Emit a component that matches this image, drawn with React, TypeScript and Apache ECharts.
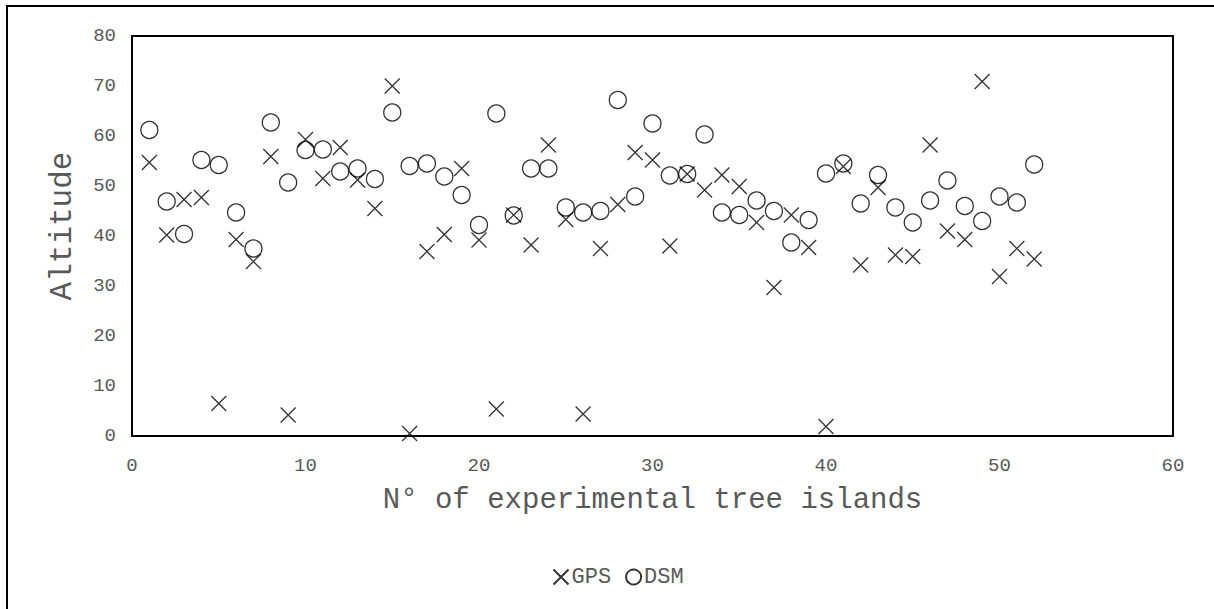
import React, { useEffect, useRef } from "react";
import * as echarts from "echarts";

const islands: number[] = Array.from({ length: 52 }, (_, i) => i + 1);
const gpsValues: number[] = [
  54.7, 40.2, 47.3, 47.7, 6.5, 39.3, 34.9, 55.9, 4.2, 59.3,
  51.5, 57.7, 51.2, 45.5, 70.0, 0.5, 36.9, 40.3, 53.5, 39.2,
  5.4, 44.2, 38.2, 58.2, 43.3, 4.4, 37.5, 46.3, 56.7, 55.2,
  38.0, 52.4, 49.2, 52.2, 49.9, 42.7, 29.7, 44.2, 37.7, 1.9,
  53.9, 34.2, 49.7, 36.2, 35.9, 58.2, 41.0, 39.3, 70.9, 31.9,
  37.5, 35.4,
];
const dsmValues: number[] = [
  61.2, 46.9, 40.4, 55.2, 54.2, 44.7, 37.5, 62.7, 50.7, 57.2,
  57.3, 52.9, 53.5, 51.4, 64.7, 54.0, 54.5, 51.9, 48.2, 42.2,
  64.5, 44.1, 53.5, 53.5, 45.7, 44.7, 45.0, 67.2, 47.9, 62.5,
  52.1, 52.4, 60.3, 44.7, 44.2, 47.1, 45.0, 38.7, 43.2, 52.5,
  54.5, 46.5, 52.2, 45.7, 42.7, 47.1, 51.1, 46.0, 43.0, 47.9,
  46.7, 54.3,
];
const xTitle = "N° of experimental tree islands";
const yTitle = "Altitude";
const seriesNames = ["GPS", "DSM"];

const FONT = "'Liberation Mono', 'Courier New', monospace";
const TEXT = "#595959";

export default function App() {
  const ref = useRef<HTMLDivElement>(null);
  useEffect(() => {
    if (!ref.current) return;
    const chart = echarts.init(ref.current, null, { renderer: "svg" });
    const cross = "path://M0,0L10,10M10,0L0,10";
    chart.setOption({
      animation: false,
      backgroundColor: "#fff",
      graphic: [
        {
          type: "rect",
          shape: { x: 7, y: 6, width: 1400, height: 800 },
          style: { fill: "none", stroke: "#000", lineWidth: 2 },
          silent: true,
          z: 100,
        },
      ],
      grid: {
        left: 132,
        right: 41,
        top: 36,
        bottom: 173,
        show: true,
        borderColor: "#000",
        borderWidth: 2,
      },
      legend: {
        left: 546,
        top: 561,
        itemGap: 14,
        itemWidth: 15,
        itemHeight: 15,
        data: seriesNames,
        textStyle: { fontFamily: FONT, fontSize: 22, color: TEXT, padding: [0, 0, 0, -2] },
      },
      xAxis: {
        type: "value",
        min: 0,
        max: 60,
        interval: 10,
        name: xTitle,
        nameLocation: "middle",
        nameGap: 50,
        nameTextStyle: { fontFamily: FONT, fontSize: 29, color: TEXT },
        axisLine: { show: false },
        axisTick: { show: false },
        splitLine: { show: false },
        axisLabel: { fontFamily: FONT, fontSize: 19, color: TEXT, margin: 20 },
      },
      yAxis: {
        type: "value",
        min: 0,
        max: 80,
        interval: 10,
        name: yTitle,
        nameLocation: "middle",
        nameRotate: 90,
        nameGap: 54,
        nameTextStyle: { fontFamily: FONT, fontSize: 31, color: TEXT, padding: [0, 0, 0, 20] },
        axisLine: { show: false },
        axisTick: { show: false },
        splitLine: { show: false },
        axisLabel: { fontFamily: FONT, fontSize: 19, color: TEXT, margin: 16 },
      },
      series: [
        {
          name: seriesNames[0],
          type: "scatter",
          symbol: cross,
          symbolSize: 15,
          itemStyle: { color: "none", borderColor: "#000", borderWidth: 1.3 },
          data: islands.map((x, i) => [x, gpsValues[i]]),
        },
        {
          name: seriesNames[1],
          type: "scatter",
          symbol: "circle",
          symbolSize: 17,
          itemStyle: { color: "transparent", borderColor: "#000", borderWidth: 1.3 },
          data: islands.map((x, i) => [x, dsmValues[i]]),
        },
      ],
    });
    return () => chart.dispose();
  }, []);
  return (
    <div
      ref={ref}
      style={{ position: "fixed", left: 0, top: 0, width: 1214, height: 609 }}
    />
  );
}
